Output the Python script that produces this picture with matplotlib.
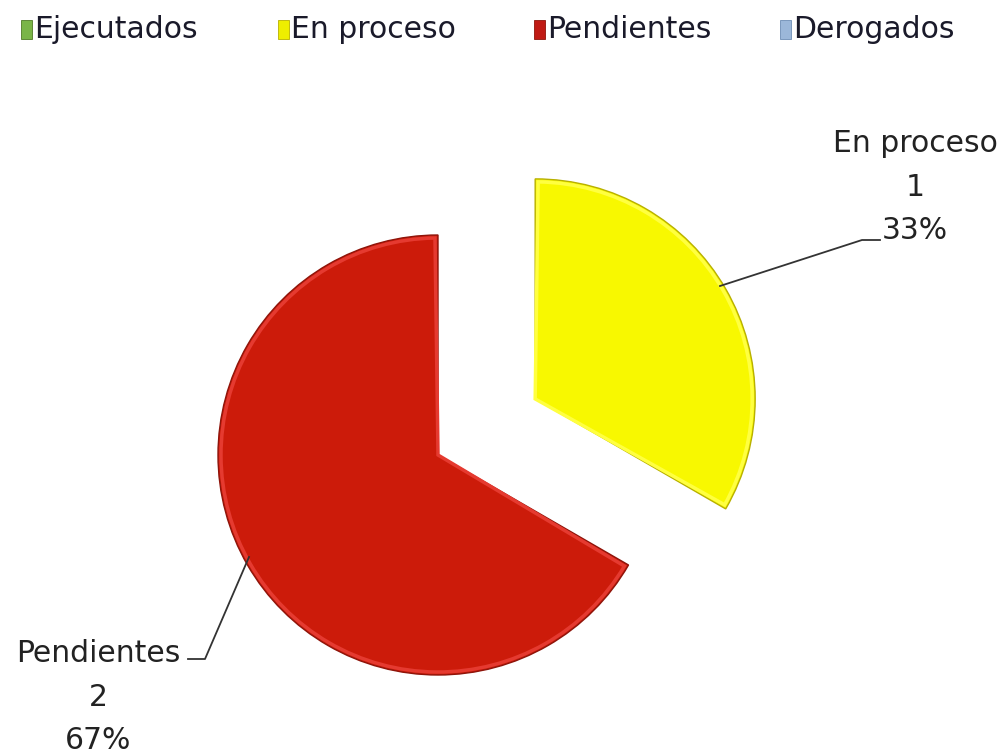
import numpy as np
from matplotlib import pyplot as plt
from matplotlib.patches import Rectangle, Wedge

categories = ["Ejecutados", "En proceso", "Pendientes", "Derogados"]
counts = [0, 1, 2, 0]

colors = ["#7BB043", "#F8F800", "#CC1B0A", "#95B3D7"]
legend_colors = ["#7AB547", "#EEEE00", "#C01A14", "#9BB7D9"]
highlight_colors = ["#9CCB6A", "#FFFF40", "#E53A30", "#B8CDE6"]
edge_colors = ["#4F7A25", "#B8B000", "#8E140A", "#6D8DB5"]

W, H = 1005, 756

plt.rcParams["font.family"] = ["DejaVu Sans"]

fig = plt.figure(figsize=(W / 100, H / 100), dpi=100)
ax = fig.add_axes([0, 0, 1, 1])

# only the non-empty slices are drawn; legend keeps all four
shown = [i for i, c in enumerate(counts) if c > 0]
radius = 220
explode = [0.51 * radius if categories[i] == "En proceso" else 0.0 for i in shown]

wedges, _ = ax.pie([counts[i] for i in shown],
                   colors=[colors[i] for i in shown],
                   explode=explode,
                   startangle=90, counterclock=False,
                   center=(438, H - 455), radius=radius,
                   wedgeprops=dict(linewidth=1.0),
                   frame=True)
for w, i in zip(wedges, shown):
    w.set_edgecolor(edge_colors[i])
    # light rim just inside the edge, a rough stand-in for the bevel
    ax.add_patch(Wedge(w.center, w.r - 3, w.theta1 + 0.8, w.theta2 - 0.8,
                       facecolor="none", edgecolor=highlight_colors[i],
                       linewidth=2.5, zorder=w.get_zorder() + 0.1))
ax.set_xlim(0, W)
ax.set_ylim(0, H)
ax.set_aspect("equal")
ax.axis("off")

label_kw = dict(ha="center", va="center", fontsize=21.5, color="#222222", linespacing=1.62)

total = sum(counts)
for i in shown:
    txt = "{}\n{}\n{:.0f}%".format(categories[i], counts[i], 100.0 * counts[i] / total)
    if categories[i] == "En proceso":
        ax.text(915, H - 187, txt, **label_kw)
        ax.plot([720, 862, 880], [H - 286, H - 240, H - 240], color="#333333", lw=1.3)
    else:
        ax.text(98, H - 697, txt, **label_kw)
        ax.plot([249, 205, 188], [H - 557, H - 659, H - 659], color="#333333", lw=1.3)

# legend drawn by hand to keep the wide column spacing of the original
legend_x = [21, 278, 534, 780]
for i, name in enumerate(categories):
    ax.add_patch(Rectangle((legend_x[i], H - 39), 11, 19, facecolor=legend_colors[i],
                           edgecolor=edge_colors[i], linewidth=0.6))
    ax.text(legend_x[i] + 13, H - 29, name, ha="left", va="center",
            fontsize=21.5, color="#1a1a2a")

fig.savefig("out.png", dpi=100)
